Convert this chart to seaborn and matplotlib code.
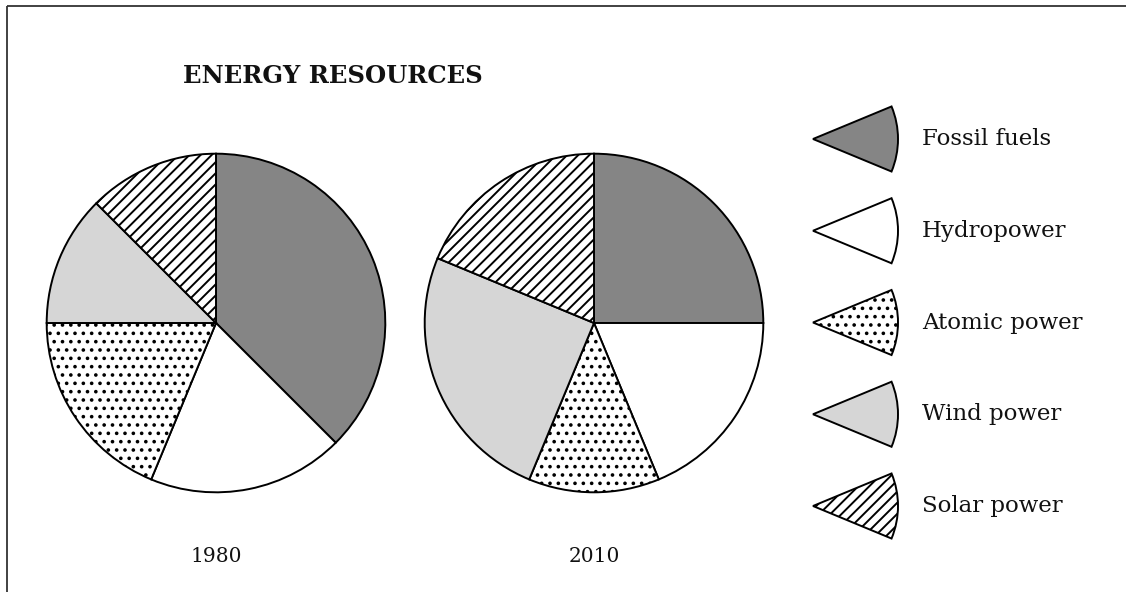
import matplotlib
matplotlib.use("Agg")
import matplotlib.pyplot as plt
from matplotlib.patches import Wedge, Rectangle
import seaborn as sns

# ---- data ----
title = "ENERGY RESOURCES"
years = ["1980", "2010"]
sources = ["Fossil fuels", "Hydropower", "Atomic power", "Wind power", "Solar power"]
share_1980 = [37.5, 18.75, 18.75, 12.5, 12.5]
share_2010 = [25.0, 18.75, 12.5, 25.0, 18.75]

# ---- styles ----
fills = ["#858585", "white", "white", "#d6d6d6", "white"]
hatches = [None, None, "..", None, "///"]

sns.set_theme(style="white")
plt.rcParams["font.family"] = ["DejaVu Serif"]
plt.rcParams["hatch.linewidth"] = 1.4
plt.rcParams["hatch.color"] = "black"

W, H = 1126, 592
fig = plt.figure(figsize=(W / 100, H / 100), dpi=100)
fig.patch.set_facecolor("white")

# overlay axes in pixel coordinates
ov = fig.add_axes([0, 0, 1, 1])
ov.set_xlim(0, W)
ov.set_ylim(H, 0)
ov.axis("off")
ov.add_patch(Rectangle((7, 6), 1160, 620, fill=False, edgecolor="#333333", linewidth=1.3))

def pie_axes(cx, cy, r):
    return fig.add_axes([(cx - r) / W, (H - cy - r) / H, 2 * r / W, 2 * r / H])

centers = [(216, 323), (594, 323)]
R = 171
for (cx, cy), vals, yr in zip(centers, [share_1980, share_2010], years):
    ax = pie_axes(cx, cy, R)
    wedges, _ = ax.pie(vals, startangle=90, counterclock=False, colors=fills,
                       wedgeprops=dict(edgecolor="black", linewidth=1.4))
    for w, h in zip(wedges, hatches):
        if h:
            w.set_hatch(h)
    ax.set_xlim(-1.01, 1.01)
    ax.set_ylim(-1.01, 1.01)
    ax.set_aspect("equal")
    ax.axis("off")
    ov.text(cx, 556, yr, ha="center", va="center", fontsize=14.5, color="#111111")

ov.text(333, 76, title, ha="center", va="center", fontsize=17.5, fontweight="bold", color="#111111")

# legend
leg_y0, leg_dy = 139, 91.75
for i, (name, fc, h) in enumerate(zip(sources, fills, hatches)):
    yc = leg_y0 + i * leg_dy
    wd = Wedge((813, yc), 85, -22.5, 22.5, facecolor=fc, edgecolor="black", linewidth=1.4)
    if h:
        wd.set_hatch(h)
    ov.add_patch(wd)
    ov.text(922, yc, name, ha="left", va="center", fontsize=16.5, color="#111111")

fig.savefig("out.png", dpi=100, facecolor="white")
